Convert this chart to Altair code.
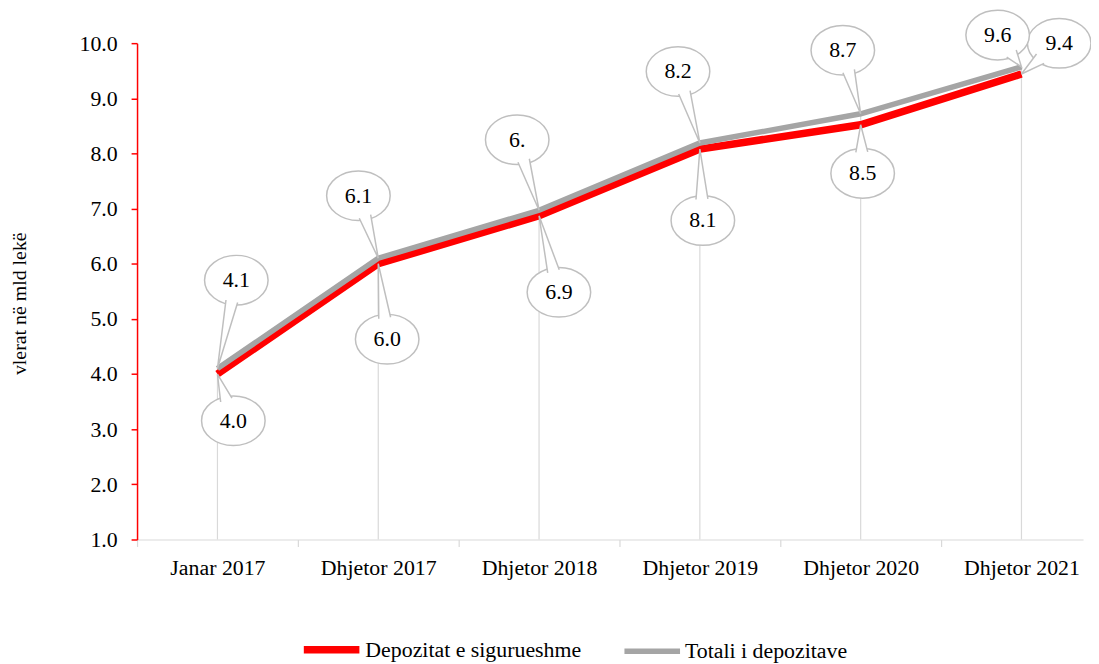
import json
import math
import altair as alt
import pandas as pd

# ---------------- data ----------------
categories = ["Janar 2017", "Dhjetor 2017", "Dhjetor 2018",
              "Dhjetor 2019", "Dhjetor 2020", "Dhjetor 2021"]
insured = [4.0, 6.0, 6.87, 8.08, 8.52, 9.44]
total = [4.1, 6.1, 6.97, 8.19, 8.72, 9.57]
insured_text = ["4.0", "6.0", "6.9", "8.1", "8.5", "9.4"]
total_text = ["4.1", "6.1", "6.", "8.2", "8.7", "9.6"]
series_names = ["Depozitat e sigurueshme", "Totali i depozitave"]

# ---------------- layout / style ----------------
# callout centre relative to its data point, in pixels (+y downwards)
insured_offsets = [(16, 47), (9, 76), (20, 77), (3, 72), (2, 49), (38, -31)]
total_offsets = [(19, -89), (-20, -63), (-22, -71), (-22, -72), (-18, -64), (-24, -32)]

FONT = "Liberation Serif"
FS = 22
X_MIN, X_MAX = -0.5, 5.383
Y_MIN, Y_MAX = 1, 10
W, H = 953, 500
PX_X = W / (X_MAX - X_MIN)
PX_Y = H / (Y_MAX - Y_MIN)
ELL_A, ELL_B = 32, 25
GREY_OUT = "#bfbfbf"

# ---------------- tables ----------------
lines_rows = []
for s, vals in zip(series_names, [insured, total]):
    for i, v in enumerate(vals):
        lines_rows.append({"x": i, "y": v, "series": s})
lines_df = pd.DataFrame(lines_rows)

drop_df = pd.DataFrame({"x": list(range(len(categories))), "y": total})

callout_rows = []
pointer_rows = []
for s, vals, texts, offs in [(series_names[0], insured, insured_text, insured_offsets),
                             (series_names[1], total, total_text, total_offsets)]:
    for i, (v, t, (dx, dy)) in enumerate(zip(vals, texts, offs)):
        key = f"{s}-{i}"
        callout_rows.append({"x": i + dx / PX_X, "y": v - dy / PX_Y, "text": t})
        L = math.hypot(dx, dy)
        ux, uy = -dx / L, -dy / L
        tt = 1 / math.sqrt((ux / ELL_A) ** 2 + (uy / ELL_B) ** 2)
        bx, by = dx + ux * tt * 0.86, dy + uy * tt * 0.86
        nx, ny = -uy, ux
        hw = 6
        pts = [(bx + nx * hw, by + ny * hw), (0.0, 0.0), (bx - nx * hw, by - ny * hw)]
        for k, (px, py) in enumerate(pts):
            pointer_rows.append({"key": key, "k": k, "x": i + px / PX_X, "y": v - py / PX_Y})
callout_df = pd.DataFrame(callout_rows)
pointer_df = pd.DataFrame(pointer_rows)

# ---------------- scales & axes ----------------
xs = alt.Scale(domain=[X_MIN, X_MAX], nice=False, zero=False)
ys = alt.Scale(domain=[Y_MIN, Y_MAX], nice=False, zero=False)

label_expr = json.dumps(categories) + "[round(datum.value + 0.5)]"

x_axis = alt.Axis(
    values=[i - 0.5 for i in range(len(categories))],
    labelExpr=label_expr, labelOffset=PX_X / 2, labelFlush=False, labelOverlap=False,
    labelFont=FONT, labelFontSize=FS, labelColor="#000000", labelPadding=11,
    domainColor="#d9d9d9", domainWidth=1.2, tickColor="#d9d9d9", tickWidth=1.2, tickSize=7,
    grid=False, title=None,
)
y_axis = alt.Axis(
    values=list(range(1, 11)), format=".1f",
    labelFont=FONT, labelFontSize=FS, labelColor="#000000", labelPadding=14,
    domainColor="#ff0000", domainWidth=1.5, tickColor="#ff0000", tickWidth=1.5, tickSize=6,
    grid=False, title="vlerat në mld lekë", titleFont=FONT, titleFontSize=20,
    titleFontWeight="normal", titleColor="#000000", titleAngle=270,
    titleX=-118, titleY=262, titleAlign="center", titleBaseline="middle",
)

X = alt.X("x:Q", scale=xs, axis=x_axis)
Y = alt.Y("y:Q", scale=ys, axis=y_axis)

# ---------------- layers ----------------
drops = alt.Chart(drop_df).mark_rule(color="#d9d9d9", strokeWidth=1.2).encode(
    x=X, y=Y, y2=alt.datum(Y_MIN),
)

legend = alt.Legend(
    orient="none", legendX=164, legendY=579, direction="horizontal", title=None,
    symbolType="stroke", symbolSize=3136, symbolStrokeWidth=6,
    labelFont=FONT, labelFontSize=FS, labelColor="#000000", labelOffset=2,
    labelLimit=500, columnPadding=32, padding=0,
)

lines = alt.Chart(lines_df).mark_line(strokeCap="butt", strokeJoin="miter").encode(
    x=X, y=Y,
    color=alt.Color("series:N", scale=alt.Scale(domain=series_names, range=["#ff0000", "#a5a5a5"]),
                    legend=legend),
    strokeWidth=alt.StrokeWidth("series:N", scale=alt.Scale(domain=series_names, range=[7.5, 5.5]),
                                legend=None),
    order=alt.Order("x:Q"),
)

ELLIPSE = ("M -1 0 C -1 -0.4297 -0.5523 -0.78125 0 -0.78125 "
           "C 0.5523 -0.78125 1 -0.4297 1 0 "
           "C 1 0.4297 0.5523 0.78125 0 0.78125 "
           "C -0.5523 0.78125 -1 0.4297 -1 0 Z")

ellipses = alt.Chart(callout_df).mark_point(
    shape=ELLIPSE, size=(2 * ELL_A) ** 2, filled=True, fill="white",
    stroke=GREY_OUT, strokeWidth=1.5, opacity=1,
).encode(x=X, y=Y)

pointers = alt.Chart(pointer_df).mark_line(
    fill="white", stroke=GREY_OUT, strokeWidth=1.5, strokeJoin="miter",
).encode(
    x=X, y=Y,
    detail="key:N",
    order=alt.Order("k:Q"),
)

texts = alt.Chart(callout_df).mark_text(
    font=FONT, fontSize=FS, color="#000000", baseline="middle", align="center",
).encode(x=X, y=Y, text="text:N")

chart = alt.layer(drops, lines, ellipses, pointers, texts).properties(
    width=W, height=H,
    autosize=alt.AutoSizeParams(type="none"),
    padding={"left": 130, "top": 33, "right": 8, "bottom": 122},
    background="white",
).configure_view(stroke=None)

chart.save("out.html", embed_options={"renderer": "svg", "actions": False})
